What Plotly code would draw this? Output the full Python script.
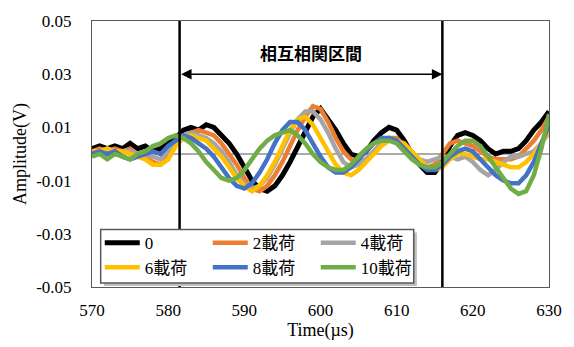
import plotly.graph_objects as go

time_us = list(range(570, 631))

load_0 = [.002, .003, .002, .003, .002, .004, .002, .003, .001, .002,
          .004, .006, .009, .010, .009, .011, .010, .007, .004, .000,
          -.005, -.010, -.013, -.014, -.012, -.008, -.003, .003, .009, .014,
          .017, .013, .009, .004, .000, -.001, .001, .005, .008, .010,
          .009, .005, .000, -.004, -.007, -.007, -.003, .003, .007, .008,
          .007, .005, .002, .000, .001, .001, .002, .005, .009, .012, .016]
load_2 = [.001, .002, .001, .002, .001, .002, .000, -.001, -.003, -.004,
          -.001, .004, .007, .008, .009, .008, .007, .004, .000, -.004,
          -.009, -.013, -.014, -.012, -.008, -.003, .003, .009, .014, .018,
          .017, .012, .006, .001, -.002, -.003, -.002, .001, .004, .006,
          .006, .003, -.001, -.004, -.005, -.004, .000, .004, .005, .004,
          .003, .001, -.001, -.002, -.002, -.002, -.001, .002, .005, .009, .014]
load_4 = [.001, .001, .002, .001, .001, .001, .000, .000, -.001, -.002,
          .001, .005, .007, .008, .007, .006, .004, .001, -.003, -.008,
          -.011, -.013, -.012, -.009, -.004, .002, .008, .013, .016, .016,
          .013, .008, .002, -.003, -.005, -.004, -.002, .001, .004, .006,
          .005, .003, .000, -.002, -.003, -.002, -.001, -.001, -.002, -.001,
          -.003, -.006, -.008, -.006, -.003, -.001, -.001, .000, .001, .004, .008]
load_6 = [.001, .001, .002, .001, .001, .000, -.001, -.002, -.004, -.004,
          -.002, .003, .006, .007, .006, .005, .002, -.001, -.005, -.009,
          -.012, -.014, -.012, -.008, -.003, .003, .009, .013, .014, .011,
          .006, .001, -.004, -.007, -.008, -.006, -.003, .000, .003, .005,
          .005, .004, .001, -.002, -.005, -.006, -.005, -.002, .000, .000,
          -.001, -.002, -.002, -.003, -.004, -.005, -.005, -.003, .000, .004, .009]
load_8 = [.000, .001, .000, .001, -.001, -.002, -.001, .000, .001, .000,
          .003, .005, .007, .006, .004, .002, -.001, -.005, -.009, -.012,
          -.013, -.011, -.007, -.002, .004, .009, .012, .012, .009, .004,
          -.001, -.005, -.007, -.007, -.005, -.002, .001, .004, .006, .006,
          .005, .002, -.001, -.004, -.006, -.006, -.004, -.001, .001, .002,
          .001, -.002, -.005, -.008, -.010, -.011, -.011, -.008, -.003, .004, .011]
load_10 = [-.001, .000, -.002, .000, -.001, -.002, .000, .001, .003, .004,
           .006, .007, .006, .004, .001, -.003, -.006, -.009, -.010, -.009,
           -.006, -.002, .002, .005, .007, .008, .009, .007, .004, .000,
           -.003, -.005, -.006, -.006, -.004, -.001, .002, .004, .005, .005,
           .004, .001, -.002, -.004, -.005, -.005, -.003, .000, .003, .005,
           .005, .003, -.001, -.005, -.009, -.013, -.015, -.014, -.008, .002, .015]

series_names = ["0", "2載荷", "4載荷", "6載荷", "8載荷", "10載荷"]
series_vals = [load_0, load_2, load_4, load_6, load_8, load_10]
series_colors = ["#000000", "#ED7D31", "#A5A5A5", "#FFC000", "#4472C4", "#70AD47"]
series_widths = [5, 4.5, 4.5, 4.5, 4.5, 4.5]
series_legend = ["legend", "legend", "legend", "legend2", "legend2", "legend2"]

window_start, window_end = 581.5, 616.0
y_ticks = [-0.05, -0.03, -0.01, 0.01, 0.03, 0.05]
y_ticktext = ["-0.05", "-0.03", "-0.01", "0.01", "0.03", "0.05"]

fig = go.Figure()
for name, vals, col, w, lg in zip(series_names, series_vals, series_colors, series_widths, series_legend):
    fig.add_trace(go.Scatter(x=time_us, y=vals, mode="lines", name=name,
                             line=dict(color=col, width=w), legend=lg))

serif = "Liberation Serif, Times New Roman, Noto Sans CJK JP"
fig.update_layout(
    width=574, height=347,
    margin=dict(l=92, r=16, t=15, b=59),
    paper_bgcolor="white", plot_bgcolor="white",
    font=dict(family=serif, size=17, color="black"),
    xaxis=dict(range=[570, 630], dtick=10, tick0=570, showgrid=False, zeroline=False,
               showline=True, linecolor="#595959", linewidth=1, mirror=True,
               ticks="", ticklabelstandoff=8,
               title=dict(text="Time(µs)", font=dict(size=18), standoff=2)),
    yaxis=dict(range=[-0.05, 0.05], tickvals=y_ticks, ticktext=y_ticktext,
               showgrid=False, zeroline=False,
               showline=True, linecolor="#595959", linewidth=1, mirror=True,
               ticks="", ticklabelstandoff=16,
               title=dict(text="Amplitude(V)", font=dict(size=18), standoff=4)),
    legend=dict(orientation="h", x=0.017, y=0.165, xanchor="left", yanchor="middle",
                bgcolor="rgba(0,0,0,0)", borderwidth=0, entrywidth=58,
                itemwidth=35, font=dict(size=17)),
    legend2=dict(orientation="h", x=0.017, y=0.073, xanchor="left", yanchor="middle",
                 bgcolor="rgba(0,0,0,0)", borderwidth=0, entrywidth=58,
                 itemwidth=35, font=dict(size=17)),
    showlegend=True,
)

# zero line, window lines, legend box
fig.add_shape(type="line", xref="paper", yref="y", x0=0, x1=1, y0=0, y1=0,
              line=dict(color="#595959", width=1), layer="below")
for xv in [window_start, window_end]:
    fig.add_shape(type="line", xref="x", yref="y", x0=xv, x1=xv, y0=-0.05, y1=0.05,
                  line=dict(color="black", width=2.5), layer="above")
fig.add_shape(type="rect", xref="paper", yref="paper", x0=0.026, x1=0.711, y0=0.004, y1=0.205,
              line=dict(width=0), fillcolor="#BFBFBF", layer="above")
fig.add_shape(type="rect", xref="paper", yref="paper", x0=0.019, x1=0.704, y0=0.015, y1=0.216,
              line=dict(color="#595959", width=1.5), fillcolor="white", layer="above")

fig.add_annotation(x=window_end, y=0.03, ax=window_start, ay=0.03, xref="x", yref="y",
                   axref="x", ayref="y", text="", showarrow=True, arrowhead=2,
                   startarrowhead=2, arrowside="end+start", arrowsize=1.4,
                   arrowwidth=1.5, arrowcolor="black", standoff=0, startstandoff=0)
fig.add_annotation(x=(window_start + window_end) / 2, y=0.038, xref="x", yref="y",
                   text="<b>相互相関区間</b>", showarrow=False,
                   font=dict(family="Noto Sans CJK JP", size=17, color="black"))

fig.write_html("out.html")
